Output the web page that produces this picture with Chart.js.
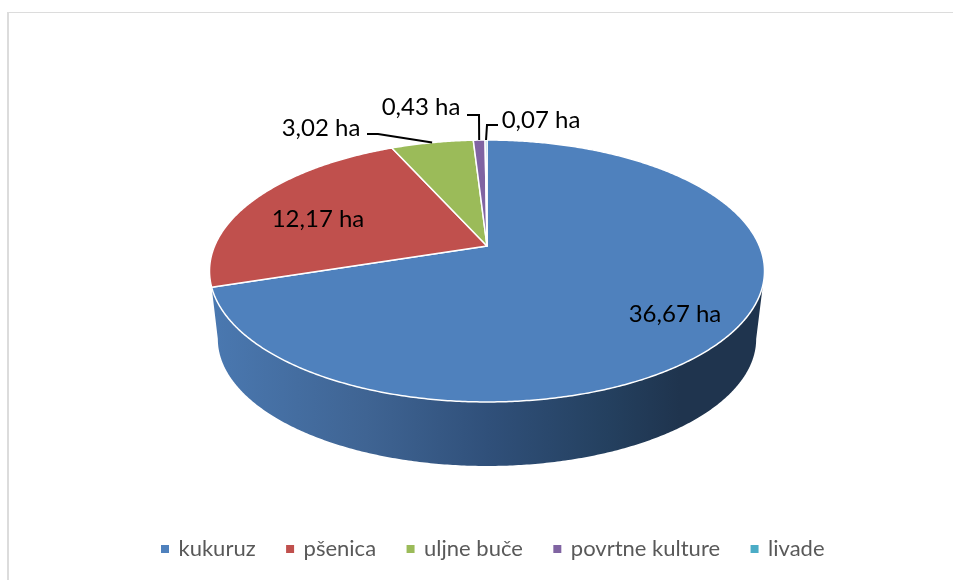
<!DOCTYPE html>
<html>
<head>
<meta charset="utf-8">
<title>Površine kultura</title>
<script src="https://cdn.jsdelivr.net/npm/chart.js@4"></script>
<style>
    html, body { margin: 0; padding: 0; background: #fff; }
    canvas { display: block; }
</style>
</head>
<body>
<canvas id="pie-chart" width="953" height="580"></canvas>
<script>
const categories = ['kukuruz', 'pšenica', 'uljne buče', 'povrtne kulture', 'livade'];
const areas = [36.67, 12.17, 3.02, 0.43, 0.07];
const sliceColors = ['#4f81bd', '#c0504d', '#9bbb59', '#8064a2', '#4bacc6'];

// where the value labels sit, and the elbow of their leader line (null = no leader)
const labelCenters = [[675, 314], [318, 219], [321, 128], [421, 107], [541, 120]];
const leaderStarts = [null, null, [367, 134], [467, 115], [498, 125]];
const leaderElbows = [null, null, [378, 134], [479, 115], [487, 125]];

// tilted disc: apex on screen, radii and perspective factor
const disc = {x: 487, y: 246, rx: 272.4, ry: 126.2, k: -0.1908};
const wall = {scale: 0.97, drop: 68.7};
const deg = Math.PI / 180;

const project = (angle, scale = 1, drop = 0) => {
    const u = Math.cos(angle);
    const v = Math.sin(angle);
    const w = 1 + disc.k * v;
    return [disc.x + disc.rx * u / w * scale, disc.y + drop + disc.ry * v / w * scale];
}

const traceRim = (ctx, from, to, scale, drop) => {
    const steps = Math.max(2, Math.ceil(Math.abs(to - from) / (0.5 * deg)));
    for (let i = 0; i <= steps; i ++) {
        const p = project(from + (to - from) * i / steps, scale, drop);
        ctx.lineTo(p[0], p[1]);
    }
}

const drawWall = (ctx) => {
    const gradient = ctx.createLinearGradient(213, 0, 762, 0);
    gradient.addColorStop(0, '#4a78b0');
    gradient.addColorStop(0.28, '#3f6493');
    gradient.addColorStop(0.5, '#30507a');
    gradient.addColorStop(0.72, '#24405f');
    gradient.addColorStop(0.85, '#1f344e');
    gradient.addColorStop(1, '#1f344e');
    ctx.beginPath();
    traceRim(ctx, 11 * deg, 169 * deg, wall.scale, wall.drop);
    traceRim(ctx, 162 * deg, 17 * deg, 1, 0);
    ctx.closePath();
    ctx.fillStyle = gradient;
    ctx.fill();
}

const tiltedPie = {
    id: 'tiltedPie',
    beforeDraw(chart) {
        const ctx = chart.ctx;
        ctx.save();
        ctx.fillStyle = '#fff';
        ctx.fillRect(0, 0, chart.width, chart.height);
        // chart area frame, only left and top show in the picture
        ctx.fillStyle = '#dcdcdc';
        ctx.fillRect(7, 12, 2, chart.height - 12);
        ctx.fillRect(7, 12, chart.width - 7, 1);
        ctx.restore();
    },
    beforeDatasetDraw(chart, args) {
        const ctx = chart.ctx;
        const arcs = args.meta.data;
        ctx.save();
        drawWall(ctx);
        ctx.lineJoin = 'round';
        arcs.forEach((arc, i) => {
            ctx.beginPath();
            ctx.moveTo(disc.x, disc.y);
            traceRim(ctx, arc.startAngle, arc.endAngle, 1, 0);
            ctx.closePath();
            ctx.fillStyle = sliceColors[i];
            ctx.fill();
            ctx.strokeStyle = '#fff';
            ctx.lineWidth = 1.5;
            ctx.stroke();
        });
        ctx.restore();
        return false;
    },
    afterDatasetsDraw(chart) {
        const ctx = chart.ctx;
        const arcs = chart.getDatasetMeta(0).data;
        ctx.save();
        ctx.strokeStyle = '#000';
        ctx.lineWidth = 2;
        arcs.forEach((arc, i) => {
            if (!leaderStarts[i]) return;
            const end = project((arc.startAngle + arc.endAngle) / 2);
            ctx.beginPath();
            ctx.moveTo(leaderStarts[i][0], leaderStarts[i][1]);
            ctx.lineTo(leaderElbows[i][0], leaderElbows[i][1]);
            ctx.lineTo(end[0], end[1]);
            ctx.stroke();
        });
        ctx.fillStyle = '#000';
        ctx.font = '24px Lato';
        ctx.textAlign = 'center';
        ctx.textBaseline = 'middle';
        areas.forEach((area, i) => {
            const text = `${area.toFixed(2).replace('.', ',')} ha`;
            ctx.fillText(text, labelCenters[i][0], labelCenters[i][1]);
        });
        ctx.restore();
    }
}

new Chart(document.getElementById('pie-chart').getContext('2d'), {
    type: 'pie',
    data: {
        labels: categories,
        datasets: [{
            data: areas,
            backgroundColor: sliceColors,
            borderWidth: 0
        }]
    },
    options: {
        responsive: false,
        animation: false,
        layout: {padding: {left: 34, bottom: 10}},
        plugins: {
            tooltip: {enabled: false},
            legend: {
                position: 'bottom',
                labels: {
                    usePointStyle: true,
                    pointStyle: 'rect',
                    boxWidth: 5,
                    boxHeight: 8,
                    padding: 32,
                    color: '#595959',
                    font: {family: 'Lato', size: 22}
                }
            }
        }
    },
    plugins: [tiltedPie]
});
</script>
</body>
</html>
